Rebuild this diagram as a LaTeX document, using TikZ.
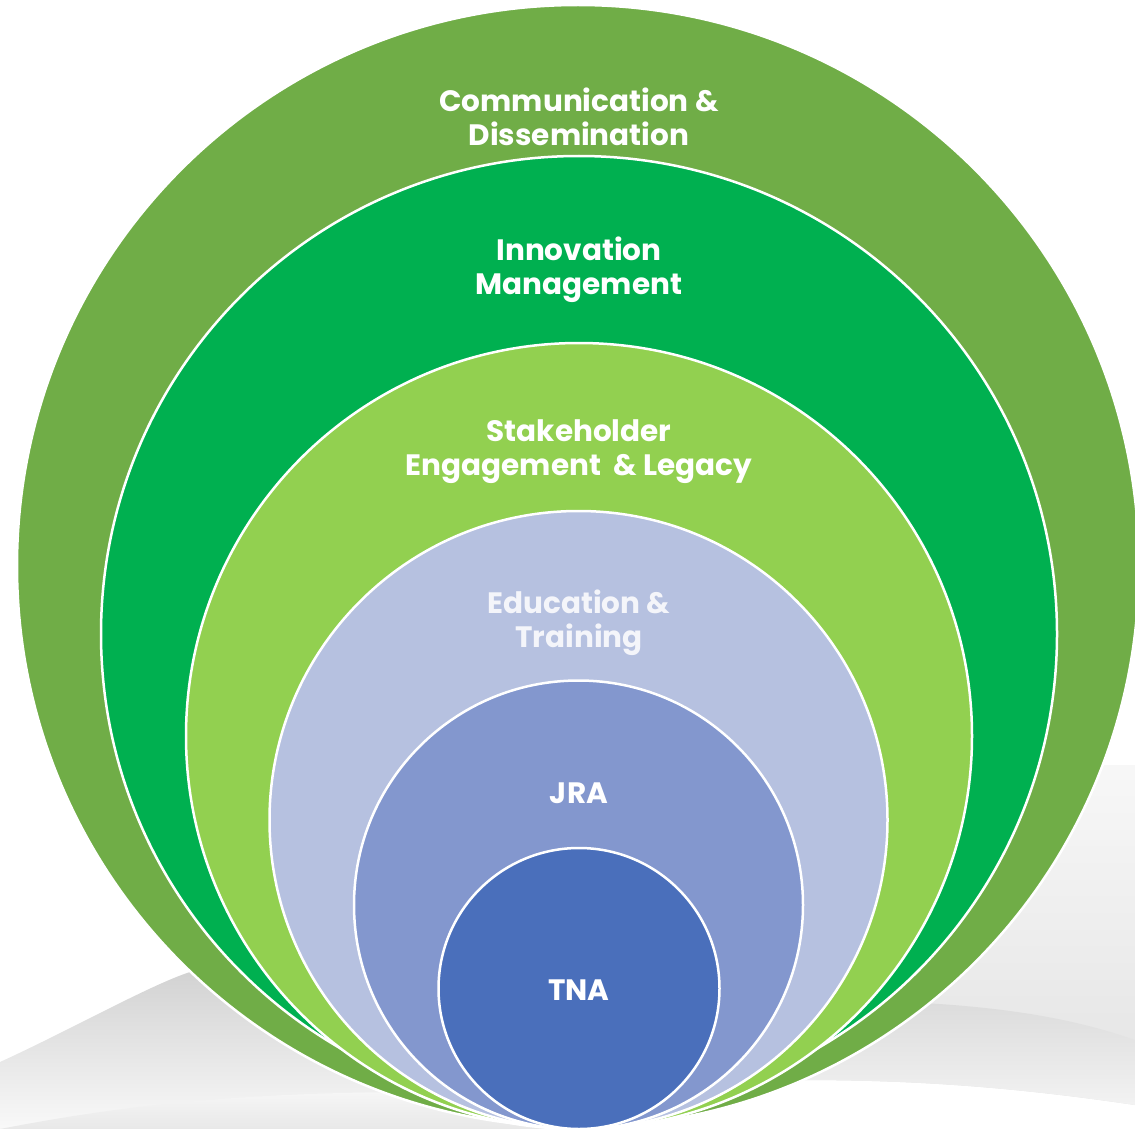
\documentclass[tikz,border=0pt]{standalone}
\usepackage{fontspec}
\setmainfont{Poppins}
\usetikzlibrary{shadings}
\definecolor{olive}{HTML}{70AD47}
\definecolor{dgreen}{HTML}{00B050}
\definecolor{lgreen}{HTML}{92D050}
\definecolor{lav}{HTML}{B6C1E0}
\definecolor{mblue}{HTML}{8397CE}
\definecolor{dblue}{HTML}{4A6FBB}
\definecolor{ltext}{HTML}{F4F5FA}
\tikzset{
  ring/.style={circle, draw=white, line width=2.5pt, inner sep=0pt, minimum size=#1},
  lbl/.style={text=white, font=\fontsize{29.5}{34}\selectfont\bfseries, align=center},
}
\begin{document}
\begin{tikzpicture}[x=1pt,y=-1pt]
\useasboundingbox (0,0) rectangle (1135,1129);
% background swooshes
\shade[top color=gray!35, bottom color=gray!5] (0,1062) .. controls (70,1030) and (150,985) .. (190,972) .. controls (300,980) and (450,1000) .. (600,1020) -- (600,1129) -- (0,1129) -- cycle;
\shade[top color=gray!5, bottom color=gray!18] (0,1129) .. controls (150,1100) and (300,1085) .. (600,1095) -- (600,1129) -- cycle;
\shade[top color=gray!6, bottom color=gray!22] (800,780) .. controls (950,770) and (1050,765) .. (1135,765) -- (1135,1105) .. controls (1000,1085) and (900,1080) .. (800,1080) -- cycle;
\shade[top color=gray!28, bottom color=gray!10] (800,1000) .. controls (950,1000) and (1050,1010) .. (1135,1040) -- (1135,1105) .. controls (1000,1085) and (900,1080) .. (800,1080) -- cycle;
% rings
\node[ring=1122pt, fill=olive] (c1) at (578,566) {};
\node[ring=956pt, fill=dgreen] (c2) at (579,634) {};
\node[ring=786pt, fill=lgreen] (c3) at (579,736) {};
\node[ring=618pt, fill=lav] (c4) at (578.5,820) {};
\node[ring=449pt, fill=mblue] (c5) at (578.5,905) {};
\node[ring=281pt, fill=dblue] (c6) at (579,988.5) {};
% labels
\node[lbl] (t1) at (579,117) {Communication \&\\Dissemination};
\node[lbl] (t2) at (579,270) {Innovation\\Management};
\node[lbl] (t3) at (579,452) {Stakeholder\\Engagement\ \ \& Legacy};
\node[lbl, text=ltext] (t4) at (579,623) {Education \&\\Training};
\node[lbl] (t5) at (579,793) {JRA};
\node[lbl] (t6) at (579,990) {TNA};
\end{tikzpicture}
\end{document}
